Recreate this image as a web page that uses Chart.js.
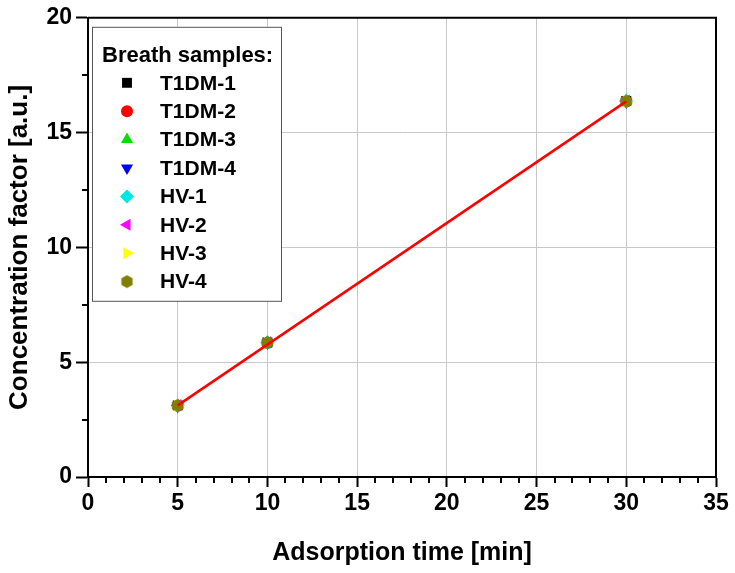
<!DOCTYPE html>
<html lang="en">
<head>
  <meta charset="UTF-8" />
  <title>Concentration factor vs adsorption time</title>
  <script src="https://cdn.jsdelivr.net/npm/chart.js"></script>
  <style>
    html, body { margin: 0; padding: 0; background: #fff; }
    #wrap { width: 735px; height: 573px; }
  </style>
</head>
<body>
  <div id="wrap"><canvas id="chart" width="735" height="573"></canvas></div>

  <script>
    // data
    const times = [5, 10, 30];
    const t1dm1 = [3.12, 5.86, 16.38];
    const t1dm2 = [3.10, 5.84, 16.35];
    const t1dm3 = [3.14, 5.88, 16.40];
    const t1dm4 = [3.08, 5.83, 16.33];
    const hv1 = [3.11, 5.85, 16.36];
    const hv2 = [3.13, 5.87, 16.39];
    const hv3 = [3.09, 5.84, 16.34];
    const hv4 = [3.11, 5.86, 16.37];
    const fitX = [5, 30];
    const fitY = [3.12, 16.36];

    const seriesNames = ['T1DM-1', 'T1DM-2', 'T1DM-3', 'T1DM-4', 'HV-1', 'HV-2', 'HV-3', 'HV-4'];
    const seriesValues = [t1dm1, t1dm2, t1dm3, t1dm4, hv1, hv2, hv3, hv4];
    const seriesColors = ['#000000', '#ff0000', '#00e000', '#0000ff', '#00e5e5', '#ff00ff', '#ffff00', '#808000'];

    const xTicks = [0, 5, 10, 15, 20, 25, 30, 35];
    const yTicks = [0, 5, 10, 15, 20];

    const FONT = "'Liberation Sans', Arial, sans-serif";

    // hexagon marker for HV-4
    function hexagon(color, r) {
      const c = document.createElement('canvas');
      c.width = c.height = r * 2 + 2;
      const g = c.getContext('2d');
      g.fillStyle = color;
      g.beginPath();
      for (let i = 0; i < 6; i++) {
        const a = Math.PI / 6 + i * Math.PI / 3;
        const px = r + 1 + r * Math.cos(a), py = r + 1 + r * Math.sin(a);
        if (i === 0) g.moveTo(px, py); else g.lineTo(px, py);
      }
      g.closePath();
      g.fill();
      return c;
    }

    const styles = [
      { pointStyle: 'rect', rotation: 0, r: 7 },
      { pointStyle: 'circle', rotation: 0, r: 6 },
      { pointStyle: 'triangle', rotation: 0, r: 7 },
      { pointStyle: 'triangle', rotation: 180, r: 7 },
      { pointStyle: 'rectRot', rotation: 0, r: 7 },
      { pointStyle: 'triangle', rotation: -90, r: 7 },
      { pointStyle: 'triangle', rotation: 90, r: 7 },
      { pointStyle: hexagon('#808000', 6.5), rotation: 0, r: 7 }
    ];

    const datasets = seriesNames.map((name, i) => ({
      type: 'scatter',
      label: name,
      data: times.map((t, j) => ({ x: t, y: seriesValues[i][j] })),
      backgroundColor: seriesColors[i],
      borderColor: seriesColors[i],
      borderWidth: 0,
      pointStyle: styles[i].pointStyle,
      rotation: styles[i].rotation,
      pointRadius: styles[i].r,
      order: seriesNames.length - i
    }));

    datasets.push({
      type: 'line',
      label: 'fit',
      data: fitX.map((x, j) => ({ x: x, y: fitY[j] })),
      borderColor: '#ff0000',
      borderWidth: 2.5,
      pointRadius: 0,
      fill: false,
      order: 0
    });

    // frame, minor ticks and legend box
    const extras = {
      id: 'extras',
      afterDatasetsDraw(chart) {
        const ctx = chart.ctx;
        const a = chart.chartArea;
        const xs = chart.scales.x, ys = chart.scales.y;
        ctx.save();
        ctx.strokeStyle = '#000';
        ctx.lineWidth = 2;
        ctx.beginPath();
        ctx.moveTo(a.left, a.top);
        ctx.lineTo(a.right, a.top);
        ctx.lineTo(a.right, a.bottom);
        ctx.stroke();

        // minor ticks
        ctx.beginPath();
        for (let v = 1; v < 35; v++) {
          if (v % 5 === 0) continue;
          const px = Math.round(xs.getPixelForValue(v));
          ctx.moveTo(px, a.bottom);
          ctx.lineTo(px, a.bottom + 6);
        }
        for (let v = 2.5; v < 20; v += 5) {
          const py = Math.round(ys.getPixelForValue(v));
          ctx.moveTo(a.left, py);
          ctx.lineTo(a.left - 6, py);
        }
        ctx.stroke();

        // legend
        const bx = a.left + 4, by = a.top + 9, bw = 189, bh = 274;
        ctx.fillStyle = '#fff';
        ctx.fillRect(bx, by, bw, bh);
        ctx.strokeStyle = '#555';
        ctx.lineWidth = 1;
        ctx.strokeRect(bx + 0.5, by + 0.5, bw, bh);

        ctx.fillStyle = '#000';
        ctx.textBaseline = 'middle';
        ctx.textAlign = 'left';
        ctx.font = 'bold 22px ' + FONT;
        ctx.fillText('Breath samples:', bx + 10, by + 29);
        ctx.font = 'bold 21px ' + FONT;
        chart.data.datasets.forEach((ds, i) => {
          if (ds.type !== 'scatter') return;
          const cy = by + 56 + i * 28.4;
          ctx.fillStyle = ds.backgroundColor;
          ctx.strokeStyle = ds.backgroundColor;
          Chart.helpers.drawPoint(ctx, {
            pointStyle: ds.pointStyle,
            rotation: ds.rotation,
            radius: ds.pointRadius,
            borderWidth: 0
          }, bx + 35, cy);
          ctx.fillStyle = '#000';
          ctx.fillText(ds.label, bx + 68, cy + 1);
        });
        ctx.restore();
      }
    };

    new Chart(document.getElementById('chart'), {
      data: { datasets: datasets },
      options: {
        responsive: false,
        animation: false,
        layout: { padding: { top: 12, right: 19, left: 0, bottom: 0 } },
        plugins: {
          legend: { display: false },
          tooltip: { enabled: false }
        },
        scales: {
          x: {
            type: 'linear',
            min: 0,
            max: 35,
            afterFit: (s) => { s.height = 96; },
            afterBuildTicks: (s) => { s.ticks = xTicks.map(v => ({ value: v })); },
            ticks: {
              color: '#000',
              padding: 3,
              font: { family: FONT, size: 23, weight: 'bold' }
            },
            grid: {
              color: '#c8c8c8',
              lineWidth: 1,
              tickColor: '#000',
              tickLength: 10,
              tickWidth: 2
            },
            border: { color: '#000', width: 2 },
            title: {
              display: true,
              text: 'Adsorption time [min]',
              color: '#000',
              padding: { top: 0, bottom: 5 },
              font: { family: FONT, size: 25, weight: 'bold' }
            }
          },
          y: {
            type: 'linear',
            min: 0,
            max: 20,
            afterFit: (s) => { s.width = 88; },
            afterBuildTicks: (s) => { s.ticks = yTicks.map(v => ({ value: v })); },
            ticks: {
              color: '#000',
              padding: 4,
              font: { family: FONT, size: 23, weight: 'bold' }
            },
            grid: {
              color: '#c8c8c8',
              lineWidth: 1,
              tickColor: '#000',
              tickLength: 12,
              tickWidth: 2
            },
            border: { color: '#000', width: 2 },
            title: {
              display: true,
              text: 'Concentration factor [a.u.]',
              color: '#000',
              padding: { top: 4, bottom: 0 },
              font: { family: FONT, size: 26, weight: 'bold' }
            }
          }
        }
      },
      plugins: [extras]
    });
  </script>
</body>
</html>
